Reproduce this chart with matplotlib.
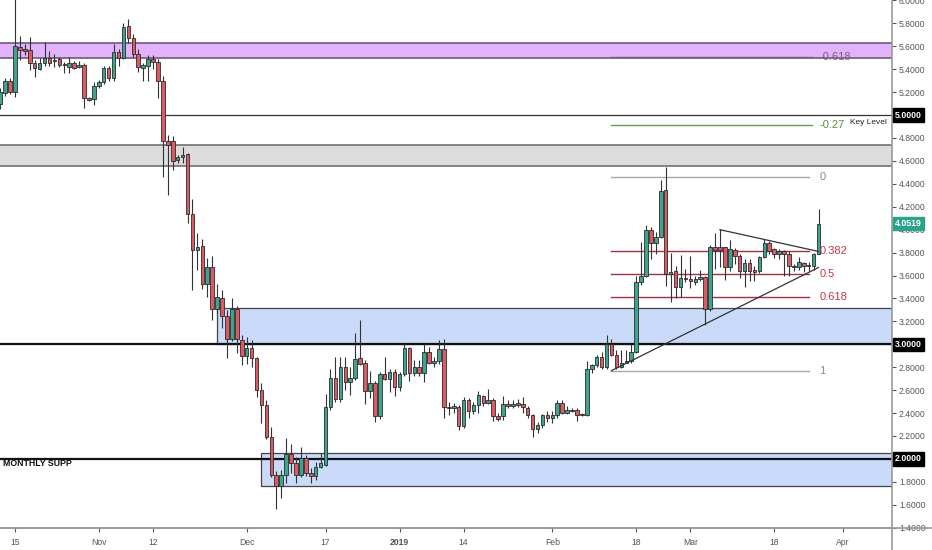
import matplotlib
matplotlib.use("Agg")
import matplotlib.pyplot as plt
import matplotlib.dates as mdates
from matplotlib.patches import Rectangle
import pandas as pd
import numpy as np

plt.rcParams['font.family'] = ['Liberation Sans', 'DejaVu Sans']

# ---------------- data ----------------
start_date = "2018-10-12"
opens = [5.10, 5.19, 5.30, 5.20, 5.59, 5.58, 5.57, 5.45, 5.40, 5.45,
         5.50, 5.47, 5.49, 5.445, 5.42, 5.45, 5.42, 5.44, 5.15, 5.14,
         5.25, 5.29, 5.41, 5.32, 5.55, 5.50, 5.78, 5.67, 5.53, 5.41,
         5.43, 5.49, 5.46, 5.30, 4.77, 4.77, 4.61, 4.63, 4.66, 4.14,
         3.82, 3.86, 3.53, 3.67, 3.31, 3.40, 3.25, 3.05, 3.31, 3.04,
         2.90, 2.97, 2.88, 2.60, 2.47, 2.19, 1.86, 1.76, 1.86, 2.04,
         1.96, 1.86, 2.01, 1.88, 1.85, 1.93, 1.95, 2.45, 2.71, 2.52,
         2.80, 2.67, 2.71, 2.88, 2.84, 2.59, 2.66, 2.37, 2.74, 2.70,
         2.76, 2.63, 2.74, 2.97, 2.75, 2.80, 2.75, 2.93, 2.84, 2.85,
         2.96, 2.45, 2.44, 2.45, 2.29, 2.51, 2.42, 2.47, 2.55, 2.49,
         2.51, 2.37, 2.37, 2.48, 2.46, 2.49, 2.48, 2.44, 2.38, 2.26,
         2.30, 2.38, 2.36, 2.38, 2.49, 2.40, 2.43, 2.43, 2.385, 2.38,
         2.78, 2.82, 2.89, 2.80, 3.00, 2.91, 2.80, 2.84, 2.85, 2.93,
         3.54, 3.60, 4.00, 3.88, 3.94, 4.35, 3.61, 3.64, 3.50, 3.58,
         3.57, 3.54, 3.57, 3.59, 3.31, 3.85, 3.85, 3.85, 3.67, 3.82,
         3.77, 3.64, 3.71, 3.65, 3.64, 3.76, 3.88, 3.83, 3.79, 3.81,
         3.79, 3.68, 3.67, 3.71, 3.69, 3.68, 3.79]
highs = [5.24, 5.32, 5.32, 6.05, 5.69, 5.62, 5.68, 5.48, 5.50, 5.64,
         5.56, 5.53, 5.51, 5.46, 5.51, 5.47, 5.47, 5.45, 5.16, 5.29,
         5.31, 5.43, 5.43, 5.62, 5.58, 5.80, 5.84, 5.71, 5.58, 5.45,
         5.52, 5.52, 5.49, 5.34, 4.83, 4.82, 4.65, 4.72, 4.67, 4.27,
         3.97, 3.92, 3.75, 3.77, 3.53, 3.47, 3.30, 3.40, 3.33, 3.08,
         3.06, 3.04, 2.89, 2.66, 2.51, 2.28, 1.89, 1.90, 2.18, 2.13,
         2.02, 2.10, 2.03, 1.92, 1.97, 2.05, 2.57, 2.78, 2.89, 2.89,
         2.89, 2.80, 3.10, 3.21, 2.86, 2.77, 2.68, 2.76, 2.89, 2.78,
         2.78, 2.76, 3.01, 2.98, 2.86, 2.86, 3.01, 2.98, 2.89, 3.04,
         3.05, 2.50, 2.49, 2.47, 2.54, 2.53, 2.50, 2.59, 2.56, 2.61,
         2.53, 2.40, 2.55, 2.51, 2.51, 2.52, 2.54, 2.46, 2.39, 2.32,
         2.39, 2.42, 2.42, 2.51, 2.51, 2.46, 2.44, 2.44, 2.40, 2.85,
         2.83, 2.91, 2.93, 3.08, 3.05, 2.95, 2.95, 2.95, 3.00, 3.60,
         3.89, 4.04, 4.02, 3.98, 4.43, 4.55, 3.80, 3.68, 3.78, 3.66,
         3.77, 3.60, 3.65, 3.60, 3.87, 3.97, 4.01, 3.85, 3.91, 3.84,
         3.79, 3.74, 3.74, 3.68, 3.77, 3.92, 3.90, 3.84, 3.83, 3.82,
         3.81, 3.70, 3.76, 3.72, 3.72, 3.80, 4.18]
lows = [5.05, 5.17, 5.18, 5.16, 5.48, 5.52, 5.39, 5.33, 5.39, 5.43,
        5.43, 5.42, 5.42, 5.37, 5.37, 5.40, 5.41, 5.06, 5.12, 5.09,
        5.24, 5.27, 5.30, 5.30, 5.43, 5.49, 5.63, 5.51, 5.38, 5.30,
        5.30, 5.40, 5.15, 4.46, 4.30, 4.52, 4.58, 4.58, 4.06, 3.47,
        3.65, 3.48, 3.41, 3.21, 3.27, 3.14, 2.88, 3.03, 2.92, 2.82,
        2.83, 2.80, 2.54, 2.31, 2.17, 1.84, 1.56, 1.66, 1.79, 1.88,
        1.79, 1.84, 1.85, 1.79, 1.82, 1.92, 1.94, 2.43, 2.50, 2.50,
        2.60, 2.56, 2.69, 2.82, 2.48, 2.53, 2.32, 2.35, 2.69, 2.58,
        2.55, 2.59, 2.72, 2.68, 2.72, 2.72, 2.67, 2.83, 2.80, 2.83,
        2.36, 2.38, 2.40, 2.25, 2.27, 2.36, 2.39, 2.40, 2.46, 2.48,
        2.33, 2.33, 2.34, 2.44, 2.44, 2.45, 2.40, 2.36, 2.19, 2.23,
        2.27, 2.32, 2.31, 2.36, 2.39, 2.39, 2.41, 2.33, 2.37, 2.37,
        2.75, 2.80, 2.78, 2.78, 2.90, 2.78, 2.79, 2.84, 2.84, 2.92,
        3.52, 3.59, 3.74, 3.79, 3.93, 3.51, 3.37, 3.40, 3.41, 3.54,
        3.49, 3.52, 3.55, 3.17, 3.29, 3.66, 3.67, 3.56, 3.64, 3.70,
        3.58, 3.50, 3.55, 3.55, 3.62, 3.75, 3.79, 3.75, 3.74, 3.60,
        3.60, 3.64, 3.65, 3.63, 3.64, 3.65, 3.79]
closes = [5.20, 5.30, 5.20, 5.60, 5.57, 5.56, 5.45, 5.41, 5.45, 5.50,
          5.45, 5.48, 5.44, 5.44, 5.45, 5.41, 5.44, 5.15, 5.13, 5.25,
          5.29, 5.41, 5.32, 5.55, 5.50, 5.77, 5.67, 5.53, 5.42, 5.44,
          5.49, 5.46, 5.30, 4.77, 4.74, 4.60, 4.63, 4.65, 4.14, 3.82,
          3.85, 3.53, 3.67, 3.31, 3.41, 3.25, 3.05, 3.31, 3.05, 2.90,
          2.97, 2.88, 2.60, 2.47, 2.19, 1.86, 1.76, 1.86, 2.04, 1.96,
          1.86, 2.01, 1.88, 1.85, 1.93, 1.96, 2.45, 2.71, 2.52, 2.80,
          2.67, 2.71, 2.87, 2.83, 2.59, 2.66, 2.37, 2.74, 2.70, 2.76,
          2.63, 2.74, 2.97, 2.75, 2.80, 2.75, 2.93, 2.84, 2.85, 2.96,
          2.45, 2.445, 2.46, 2.29, 2.51, 2.42, 2.47, 2.56, 2.49, 2.51,
          2.37, 2.35, 2.48, 2.46, 2.48, 2.47, 2.45, 2.38, 2.26, 2.30,
          2.38, 2.36, 2.38, 2.49, 2.40, 2.43, 2.42, 2.38, 2.38, 2.78,
          2.82, 2.89, 2.80, 3.00, 2.91, 2.80, 2.84, 2.85, 2.93, 3.54,
          3.60, 4.00, 3.88, 3.94, 4.34, 3.61, 3.63, 3.50, 3.58, 3.57,
          3.55, 3.57, 3.59, 3.31, 3.85, 3.82, 3.82, 3.67, 3.83, 3.77,
          3.64, 3.71, 3.64, 3.63, 3.76, 3.88, 3.81, 3.79, 3.81, 3.79,
          3.68, 3.67, 3.72, 3.68, 3.68, 3.79, 4.0519]

# horizontal zones (bottom, top, start date)
zone_purple = (5.494, 5.625)
zone_grey = (4.553, 4.736)
zone_blue1 = (3.0, 3.315, "2018-11-25")
zone_blue2 = (1.76, 2.05, "2018-12-04")
key_level = 5.0
level_lines = [3.0, 2.0]

# fibonacci
fib_high = 4.46
fib_low = 2.77
fib_levels = [0, 0.382, 0.5, 0.618, 1, -0.27, -0.618]
fib_labels = ["0", "0.382", "0.5", "0.618", "1", "-0.27", "-0.618"]
fib_start = "2019-02-13"
fib_end = "2019-03-25"

# trend lines (date, price)
tl_down = [("2019-03-07", 4.00), ("2019-03-27", 3.81)]
tl_up = [("2019-02-13", 2.77), ("2019-03-27", 3.67)]

tick_dates = ["2018-10-15", "2018-11-01", "2018-11-12", "2018-12-01", "2018-12-17",
              "2019-01-01", "2019-01-14", "2019-02-01", "2019-02-18", "2019-03-01",
              "2019-03-18", "2019-04-01"]
tick_labels = ["15", "Nov", "12", "Dec", "17", "2019", "14", "Feb", "18", "Mar", "18", "Apr"]

price_ticks = [1.4 + 0.2 * i for i in range(24)]

# ---------------- plot ----------------
W, H = 932, 550
fig = plt.figure(figsize=(W / 100, H / 100), dpi=100)
ax = fig.add_axes([0, 22 / H, 892 / W, 528 / H])

dates = pd.date_range(start_date, periods=len(opens), freq="D")
x = mdates.date2num(dates)
o = np.array(opens); h = np.array(highs); l = np.array(lows); c = np.array(closes)
up = c >= o
green = "#3da58e"
red = "#dc5a63"
edge = "#2b2b2b"

d0 = mdates.date2num(pd.Timestamp("2018-10-15"))
xmin = d0 - 3.04
xmax = d0 + 177.9
ax.set_xlim(xmin, xmax)
ax.set_ylim(1.397, 6.004)

# zones
def hzone(y0, y1, xs, fc, ec, lw=1.0, z=0.5):
    ax.add_patch(Rectangle((xs, y0), xmax - xs + 5, y1 - y0, facecolor=fc,
                           edgecolor=ec, linewidth=lw, zorder=z))

hzone(zone_purple[0], zone_purple[1], xmin - 5, "#e2b3fb", "#6e5a78", 1.2)
hzone(zone_grey[0], zone_grey[1], xmin - 5, "#dcdcdc", "#6f6f6f", 1.2)
hzone(zone_blue1[0], zone_blue1[1], mdates.date2num(pd.Timestamp(zone_blue1[2])), "#c9dbf8", "#444444", 0.9)
hzone(zone_blue2[0], zone_blue2[1], mdates.date2num(pd.Timestamp(zone_blue2[2])), "#c9dbf8", "#444444", 0.9)

ax.axhline(key_level, color="#333333", lw=0.9, zorder=1)
for lv in level_lines:
    ax.axhline(lv, color="#111111", lw=1.6, zorder=1)

# fib lines
fs = mdates.date2num(pd.Timestamp(fib_start))
fe = mdates.date2num(pd.Timestamp(fib_end))
fib_colors = {"0": "#a8a8a8", "1": "#a8a8a8", "0.382": "#a03040", "0.5": "#a03040",
              "0.618": "#a03040", "-0.27": "#6b9a4b", "-0.618": "#7a5c86"}
fib_text_colors = {"0": "#8a8a8a", "1": "#8a8a8a", "0.382": "#c0394b", "0.5": "#c0394b",
                   "0.618": "#c0394b", "-0.27": "#5d8c43", "-0.618": "#7a5c86"}
for lv, lab in zip(fib_levels, fib_labels):
    p = fib_high - lv * (fib_high - fib_low)
    ext = 0.6 if lv < 0 else 0
    ax.plot([fs, fe + ext], [p, p], color=fib_colors[lab], lw=1.0, zorder=2)
    ax.text(fe + 2.2, p, lab, color=fib_text_colors[lab], fontsize=8,
            va="center", ha="left", zorder=6)

# candles
ax.vlines(x, l, h, color="#333333", lw=0.8, zorder=3)
bw = 0.72
bottoms = np.minimum(o, c)
heights = np.maximum(np.abs(c - o), 0.008)
ax.bar(x[up], heights[up], bottom=bottoms[up], width=bw, color=green,
       edgecolor=edge, linewidth=0.6, zorder=4)
ax.bar(x[~up], heights[~up], bottom=bottoms[~up], width=bw, color=red,
       edgecolor=edge, linewidth=0.6, zorder=4)

# trend lines
for tl in (tl_down, tl_up):
    xs = [mdates.date2num(pd.Timestamp(t[0])) for t in tl]
    ys = [t[1] for t in tl]
    ax.plot(xs, ys, color="#333333", lw=0.9, zorder=5)

# texts
ax.text(xmax - 1.0, key_level - 0.035, "Key Level", fontsize=6, ha="right", va="top",
        color="#222222", zorder=6)
ax.text(xmin + 0.6, 2.0 - 0.04, "MONTHLY SUPP", fontsize=6.3, fontweight="bold",
        ha="left", va="center", color="#111111", zorder=6)

# axes styling
for s in ["left", "top"]:
    ax.spines[s].set_visible(False)
ax.spines["right"].set_color("#9a9a9a")
ax.spines["bottom"].set_color("#9a9a9a")
ax.spines["right"].set_linewidth(1.2)
ax.spines["bottom"].set_linewidth(1.2)
ax.yaxis.tick_right()
boxed = [key_level] + level_lines
ax.set_yticks(price_ticks)
ax.set_yticklabels(["" if any(abs(v - b) < 1e-6 for b in boxed) else f"{v:.4f}"
                    for v in price_ticks])
ax.tick_params(axis="y", which="major", length=3, width=0.8, colors="#555555",
               labelsize=6.2, pad=2)
ax.set_xticks([mdates.date2num(pd.Timestamp(t)) for t in tick_dates])
ax.set_xticklabels(tick_labels)
ax.tick_params(axis="x", length=3, width=0.8, colors="#555555", labelsize=6.2, pad=4)
for lab in ax.get_xticklabels():
    if lab.get_text() == "2019":
        lab.set_fontweight("bold")
ax.set_facecolor("white")

# price labels on the right axis
def axlabel(p, txt, bg):
    ax.annotate(txt, xy=(1.0, p), xycoords=("axes fraction", "data"),
                xytext=(2, 0), textcoords="offset points", fontsize=6.3,
                fontweight="bold", color="white", va="center", ha="left",
                bbox=dict(boxstyle="square,pad=0.25", fc=bg, ec=bg),
                annotation_clip=False, zorder=10)

for lv in boxed:
    axlabel(lv, f"{lv:.4f}", "#000000")
axlabel(closes[-1], f"{closes[-1]:.4f}", "#2ba38c")

# extend axis lines to figure edges
fig.add_artist(plt.Line2D([0, 1], [22 / H, 22 / H], color="#9a9a9a", lw=1.2,
                          transform=fig.transFigure))
fig.add_artist(plt.Line2D([892 / W, 892 / W], [0, 22 / H], color="#9a9a9a", lw=1.2,
                          transform=fig.transFigure))

fig.savefig("out.png", dpi=100)
